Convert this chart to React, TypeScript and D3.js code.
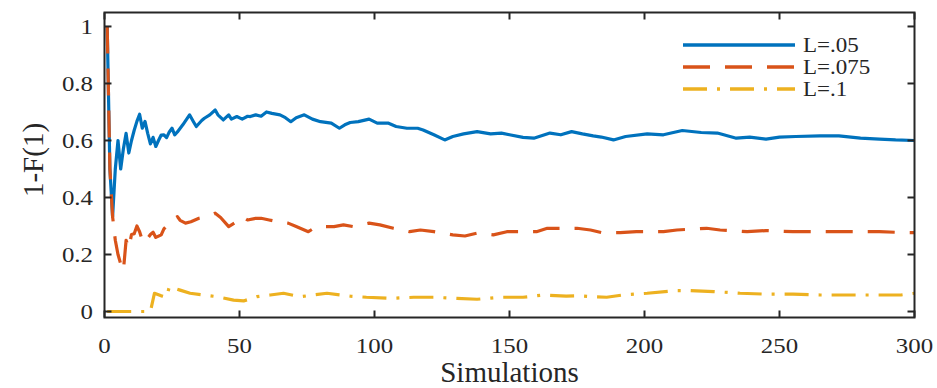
import React from "react";
import * as d3 from "d3";

const blueX = [1,2,3,4,5,6,7,8,9,10,11,12,13,14,15,16,17,18,19,20,21,22,23,24,25,26,27,29,31.5,33,34,36,37,39,41,42,44,46,47,49,51,53,54,56,58,60,62,65,67,69,71,74,77,80,84,87,89,91,94,98,101,105,108,112,116,118,122,126,129,133,138,143,147,150,155,159,163,165,169,173,177,181,184,188.5,193,201,207,214,221,227,234,239,245,250,256,265,272,280,287,293,300];
const blueY = [1,0.5,0.333,0.5,0.6,0.5,0.571,0.625,0.556,0.6,0.636,0.667,0.692,0.643,0.667,0.625,0.588,0.611,0.579,0.6,0.619,0.62,0.61,0.63,0.643,0.62,0.63,0.655,0.69,0.665,0.649,0.67,0.678,0.69,0.707,0.69,0.672,0.69,0.675,0.684,0.675,0.685,0.684,0.69,0.685,0.7,0.695,0.69,0.68,0.666,0.68,0.69,0.675,0.666,0.661,0.643,0.655,0.663,0.666,0.675,0.661,0.661,0.649,0.643,0.643,0.637,0.62,0.602,0.614,0.623,0.631,0.623,0.626,0.62,0.611,0.608,0.62,0.626,0.62,0.631,0.623,0.616,0.612,0.602,0.614,0.623,0.62,0.635,0.628,0.626,0.608,0.612,0.605,0.612,0.614,0.616,0.616,0.608,0.605,0.602,0.6];

const redX = [1,2,3,4,5,6,7,8,9,10,11,12,13,14,15,16,17,18,19,21,22,24,25,27,28,30,32,35,38,41,43,46,49,51,53,56,58,61,64,68,71,75.5,78.5,85,88.5,92,98,102,107,113,117,122,129,133.5,138,144,149,153,160,164,168,175,180,184,191,197,207,212,223,228,238,245,255,263,271,280,287,296,300];
const redY = [1,0.5,0.333,0.25,0.2,0.167,0.143,0.25,0.222,0.27,0.273,0.3,0.28,0.25,0.24,0.257,0.27,0.278,0.26,0.269,0.29,0.31,0.321,0.333,0.32,0.31,0.315,0.327,0.333,0.345,0.33,0.298,0.315,0.333,0.321,0.327,0.327,0.321,0.315,0.31,0.298,0.28,0.298,0.298,0.304,0.298,0.31,0.304,0.292,0.28,0.286,0.28,0.269,0.265,0.275,0.269,0.28,0.28,0.28,0.292,0.292,0.292,0.286,0.277,0.277,0.28,0.28,0.286,0.292,0.286,0.28,0.284,0.28,0.28,0.28,0.28,0.28,0.277,0.277];

const yellowX = [1,17,18.5,21,23,24,28,31.7,41.6,47.8,51.5,56.4,61.4,66.3,72.5,82.4,91,97,106,114.5,122,130.5,138,146.6,155,162.6,171,176,180,186,192,201,211,217,225.6,235.4,245,255,265,275,285,295,300];
const yellowY = [0,0,0.064,0.055,0.05,0.087,0.075,0.064,0.052,0.04,0.037,0.052,0.058,0.064,0.052,0.064,0.054,0.05,0.046,0.05,0.05,0.046,0.043,0.05,0.05,0.058,0.054,0.055,0.052,0.05,0.058,0.064,0.073,0.073,0.07,0.064,0.061,0.061,0.058,0.058,0.058,0.058,0.064];

const seriesNames = ["L=.05", "L=.075", "L=.1"];
const seriesColors = ["#0072BD", "#D95319", "#EDB120"];
const seriesDash = ["none", "27,15", "24,10,3,10"];
const xTicks = [0, 50, 100, 150, 200, 250, 300];
const yTicks = [0, 0.2, 0.4, 0.6, 0.8, 1];
const xLabel = "Simulations";
const yLabel = "1-F(1)";

const W = 937, H = 388;
const L = 104.5, R = 914.5, T = 12.5, B = 317.5;
const FONT = "Times New Roman, Liberation Serif, Tinos, serif";
const INK = "#262626";

export default function App() {
  const x = d3.scaleLinear().domain([0, 300]).range([L, R]);
  const y = d3.scaleLinear().domain([-0.021, 1.049]).range([B, T]);
  const line = d3.line<[number, number]>().x(d => x(d[0])).y(d => y(d[1]));
  const series = [
    d3.zip(blueX, blueY) as [number, number][],
    d3.zip(redX, redY) as [number, number][],
    d3.zip(yellowX, yellowY) as [number, number][],
  ];
  const tl = 7;
  const fmt = (v: number) => String(+v.toFixed(1));
  return (
    <svg width={W} height={H} style={{ position: "fixed", left: 0, top: 0, background: "#fff" }} fontFamily={FONT}>
      <defs>
        <clipPath id="plot"><rect x={L} y={T} width={R - L} height={B - T} /></clipPath>
      </defs>
      <g clipPath="url(#plot)">
        {series.map((s, i) => (
          <path key={i} d={line(s) || ""} fill="none" stroke={seriesColors[i]} strokeWidth={3.2}
            strokeDasharray={seriesDash[i]} strokeLinejoin="round" />
        ))}
      </g>
      {xTicks.map(t => (
        <g key={"x" + t}>
          <line x1={x(t)} x2={x(t)} y1={B} y2={B - tl} stroke={INK} strokeWidth={2} />
          <line x1={x(t)} x2={x(t)} y1={T} y2={T + tl} stroke={INK} strokeWidth={2} />
          <text x={x(t)} y={353} textAnchor="middle" fontSize={22} fill={INK}
            transform={`translate(${x(t)},0) scale(1.13,1) translate(${-x(t)},0)`}>{t}</text>
        </g>
      ))}
      {yTicks.map(t => (
        <g key={"y" + t}>
          <line x1={L} x2={L + tl} y1={y(t)} y2={y(t)} stroke={INK} strokeWidth={2} />
          <line x1={R} x2={R - tl} y1={y(t)} y2={y(t)} stroke={INK} strokeWidth={2} />
          <text x={93} y={y(t)} dy="0.35em" textAnchor="end" fontSize={22} fill={INK}
            transform={`translate(93,0) scale(1.13,1) translate(-93,0)`}>{fmt(t)}</text>
        </g>
      ))}
      <rect x={L} y={T} width={R - L} height={B - T} fill="none" stroke={INK} strokeWidth={2} />
      <text x={(L + R) / 2} y={382} textAnchor="middle" fontSize={29} fill={INK}>{xLabel}</text>
      <text transform={`translate(43,160) rotate(-90)`} textAnchor="middle" fontSize={29} fill={INK}>{yLabel}</text>
      {seriesNames.map((n, i) => {
        const ly = 45 + i * 22;
        return (
          <g key={n}>
            <line x1={683} x2={795} y1={ly} y2={ly} stroke={seriesColors[i]} strokeWidth={3.5}
              strokeDasharray={seriesDash[i]} />
            <text x={803} y={ly} dy="0.35em" fontSize={20} fill={INK}
              transform={`translate(803,0) scale(1.15,1) translate(-803,0)`}>{n}</text>
          </g>
        );
      })}
    </svg>
  );
}
